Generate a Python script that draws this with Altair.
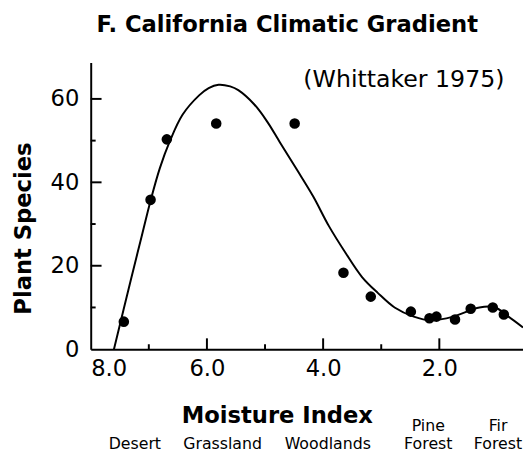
import altair as alt
import pandas as pd

# ---- data ----
moisture = [7.43, 6.97, 6.69, 5.84, 4.49, 3.65, 3.18, 2.49, 2.17, 2.05, 1.73, 1.46, 1.08, 0.89]
species = [6.6, 35.8, 50.3, 54.1, 54.1, 18.3, 12.6, 9.0, 7.4, 7.8, 7.1, 9.7, 10.0, 8.3]

curve_moisture = [7.60, 7.31, 7.14, 6.97, 6.81, 6.64, 6.42, 6.13, 5.97, 5.80, 5.60, 5.46,
                  5.18, 4.96, 4.74, 4.45, 4.17, 3.90, 3.61, 3.33, 3.06, 2.77, 2.44, 2.15,
                  1.76, 1.31, 1.04, 0.81, 0.56]
curve_species = [0.0, 16.6, 26.1, 35.6, 43.4, 49.8, 56.2, 60.9, 62.6, 63.4, 63.0, 62.1,
                 58.6, 54.5, 49.5, 43.0, 36.6, 29.5, 23.0, 17.3, 13.5, 10.0, 7.8, 6.9,
                 7.8, 10.0, 10.0, 7.8, 5.2]

x_tick_labels = [8.0, 6.0, 4.0, 2.0]
x_major_ticks = [6.0, 4.0, 2.0]
x_minor_ticks = [7.0, 5.0, 3.0]
y_tick_labels = [0, 20, 40, 60]
y_major_ticks = [20, 40, 60]
y_minor_ticks = [10, 30, 50]

zone_moisture = [7.24, 5.73, 3.92, 2.19, 0.99]
zone_upper = ["", "", "", "Pine", "Fir"]
zone_lower = ["Desert", "Grassland", "Woodlands", "Forest", "Forest"]

title_text = "F. California Climatic Gradient"
source_text = ["(Whittaker 1975)"]
source_x = [2.61]
source_y = [62.8]

# ---- layout ----
W, H = 439, 291
FONT = "DejaVu Sans"
X0, X1 = 8.0, 0.56
Y0, Y1 = 0.0, 68.7
PX_PER_X = W / (X0 - X1)
PX_PER_Y = H / (Y1 - Y0)
MAJOR_LEN, MINOR_LEN = 11, 5  # tick lengths in pixels (inward)

xs = alt.Scale(domain=[X0, X1], nice=False, zero=False)
ys = alt.Scale(domain=[Y0, Y1], nice=False, zero=False)

pts_df = pd.DataFrame({"m": moisture, "s": species})
curve_df = pd.DataFrame({"m": curve_moisture, "s": curve_species})

# one table holding every inward tick segment (start and end through the scales)
tick_rows = []
for v, ln in [(v, MAJOR_LEN) for v in x_major_ticks] + [(v, MINOR_LEN) for v in x_minor_ticks]:
    tick_rows.append({"m": v, "s": Y0, "m2": v, "s2": Y0 + ln / PX_PER_Y})
for v, ln in [(v, MAJOR_LEN) for v in y_major_ticks] + [(v, MINOR_LEN) for v in y_minor_ticks]:
    tick_rows.append({"m": X0, "s": v, "m2": X0 - ln / PX_PER_X, "s2": v})
ticks_df = pd.DataFrame(tick_rows)

x_axis = alt.Axis(values=x_tick_labels, format=".1f", grid=False, tickOpacity=0,
                  domainColor="black", domainWidth=2, labelFont=FONT, labelFontSize=23,
                  labelColor="black", labelPadding=4,
                  title="Moisture Index", titleFont=FONT, titleFontSize=23, titleFontWeight="bold",
                  titleColor="black", titleX=189, titleY=74, titleAlign="center",
                  titleBaseline="alphabetic")
y_axis = alt.Axis(values=y_tick_labels, grid=False, tickOpacity=0,
                  domainColor="black", domainWidth=2, labelFont=FONT, labelFontSize=23,
                  labelColor="black", labelPadding=7,
                  title="Plant Species", titleFont=FONT, titleFontSize=23, titleFontWeight="bold",
                  titleColor="black", titleX=-68, titleY=168, titleAngle=270, titleAlign="center",
                  titleBaseline="middle")

X = alt.X("m:Q", scale=xs, axis=x_axis)
Y = alt.Y("s:Q", scale=ys, axis=y_axis)

points = alt.Chart(pts_df).mark_circle(color="black", size=115, opacity=1).encode(x=X, y=Y)

curve = alt.Chart(curve_df).mark_line(color="black", strokeWidth=2, interpolate="catmull-rom",
                                      clip=True).encode(
    x=X, y=Y, order=alt.Order("m:Q", sort="descending"))

ticks = alt.Chart(ticks_df).mark_rule(color="black", strokeWidth=2, opacity=1).encode(
    x=X, y=Y, x2=alt.X2("m2:Q"), y2=alt.Y2("s2:Q"))

zone_df = pd.DataFrame({"m": zone_moisture, "up": zone_upper, "low": zone_lower})
zones_low = alt.Chart(zone_df).mark_text(
    font=FONT, fontSize=16, color="black", align="center", baseline="alphabetic").encode(
    x=X, y=alt.value(392), text="low:N")
zones_up = alt.Chart(zone_df).mark_text(
    font=FONT, fontSize=16, color="black", align="center", baseline="alphabetic").encode(
    x=X, y=alt.value(374), text="up:N")

source = alt.Chart(pd.DataFrame({"m": source_x, "s": source_y, "t": source_text})).mark_text(
    font=FONT, fontSize=24, color="black", align="center", baseline="alphabetic").encode(
    x=X, y=Y, text="t:N")

chart = alt.layer(points, curve, ticks, zones_low, zones_up, source).properties(
    width=W, height=H,
    background="white",
    title=alt.TitleParams(text=title_text, font=FONT, fontSize=23, fontWeight="bold",
                          color="black", anchor="middle", dx=-20, offset=8,
                          baseline="alphabetic"),
    autosize=alt.AutoSizeParams(type="none"),
    padding={"left": 84, "top": 52, "right": 0, "bottom": 104},
).configure_view(stroke=None)

chart.save("out.html", embed_options={"renderer": "svg", "actions": False})
